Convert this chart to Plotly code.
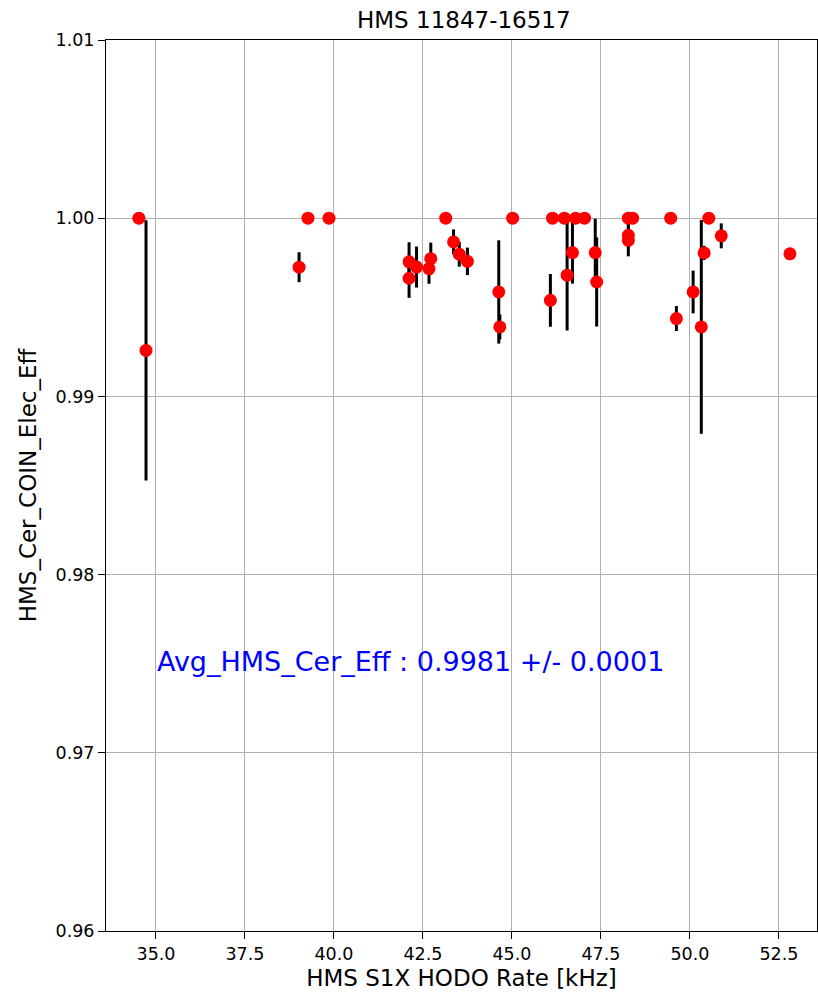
import plotly.graph_objects as go

rate_khz = [34.52, 34.72, 39.02, 39.27, 39.86, 42.11, 42.11, 42.32, 42.67, 42.72,
            43.14, 43.36, 43.52, 43.75, 44.63, 44.66, 45.02, 46.08, 46.14, 46.47,
            46.55, 46.70, 46.79, 47.04, 47.34, 47.38, 48.27, 48.39, 48.27, 48.27,
            49.46, 49.62, 50.09, 50.32, 50.40, 50.53, 50.88, 52.81]
cer_eff = [1.0000, 0.99258, 0.99725, 1.0000, 1.0000, 0.99755, 0.99663, 0.99726, 0.99717, 0.99773,
           1.0000, 0.99867, 0.99798, 0.99758, 0.99586, 0.99390, 1.0000, 0.99539, 1.0000, 1.0000,
           0.99680, 0.99807, 1.0000, 1.0000, 0.99807, 0.99642, 1.0000, 1.0000, 0.99904, 0.99876,
           1.0000, 0.99437, 0.99586, 0.99390, 0.99805, 1.0000, 0.99901, 0.99800]
cer_err = [0.0, 0.0073, 0.00084, 0.0, 0.0, 0.0011, 0.0011, 0.00115, 0.00085, 0.0009,
           0.0, 0.0007, 0.0007, 0.00077, 0.0029, 0.0007, 0.0, 0.00148, 0.0, 0.0,
           0.0031, 0.00174, 0.0, 0.0, 0.0019, 0.0025, 0.0, 0.0, 0.0007, 0.0009,
           0.0, 0.0007, 0.0012, 0.006, 0.0004, 0.0, 0.0007, 0.0]

title_text = "HMS 11847-16517"
avg_text = "Avg_HMS_Cer_Eff : 0.9981 +/- 0.0001"

fig = go.Figure()
fig.add_trace(go.Scatter(
    x=rate_khz, y=cer_eff, mode="markers",
    marker=dict(color="red", size=13),
    error_y=dict(type="data", array=cer_err, visible=True, color="black",
                 thickness=3, width=0),
    showlegend=False,
))

axis_common = dict(showline=True, linecolor="black", linewidth=1, mirror=True,
                   showgrid=True, gridcolor="#b0b0b0", gridwidth=1,
                   ticks="outside", ticklen=7, tickcolor="black",
                   tickfont=dict(size=17.5, color="black"), zeroline=False)

fig.update_layout(
    width=818, height=996,
    margin=dict(l=106, r=1, t=40, b=65),
    paper_bgcolor="white", plot_bgcolor="white",
    font=dict(family="DejaVu Sans", color="black"),
    title=dict(text=title_text, x=0.567, xanchor="center", y=0.98, yanchor="middle",
               font=dict(size=23)),
    xaxis=dict(range=[33.596, 53.57], tick0=35, dtick=2.5, tickformat=".1f",
               title=dict(text="HMS S1X HODO Rate [kHz]", font=dict(size=23), standoff=6),
               **axis_common),
    yaxis=dict(range=[0.96, 1.01], dtick=0.01, tickformat=".2f",
               title=dict(text="HMS_Cer_COIN_Elec_Eff", font=dict(size=23), standoff=12),
               **axis_common),
)

fig.add_annotation(x=34.97, y=0.9751, xref="x", yref="y", text=avg_text,
                   showarrow=False, xanchor="left", yanchor="middle",
                   font=dict(size=27, color="blue"))

fig.write_html("out.html")
